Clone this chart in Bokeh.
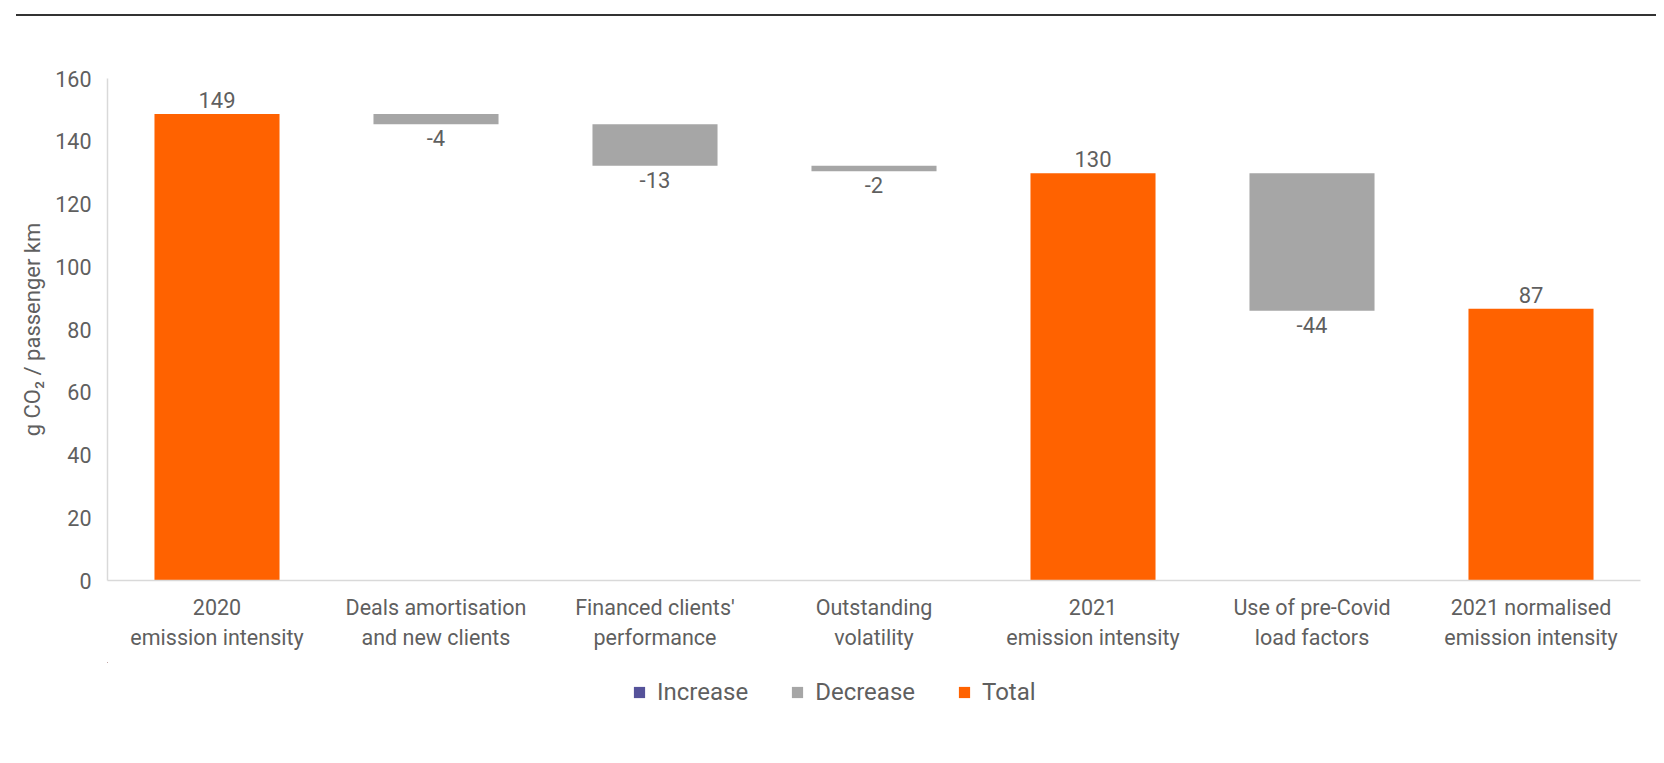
from bokeh.plotting import figure
from bokeh.models import (ColumnDataSource, Range1d, FixedTicker, Legend, LegendItem,
                          InlineStyleSheet)
from bokeh.layouts import column
from bokeh.core.properties import value
from bokeh.embed import file_html
from bokeh.resources import INLINE

# ---- data ----
categories = ["2020\nemission intensity", "Deals amortisation\nand new clients",
              "Financed clients'\nperformance", "Outstanding\nvolatility",
              "2021\nemission intensity", "Use of pre-Covid\nload factors",
              "2021 normalised\nemission intensity"]
kinds = ["Total", "Decrease", "Decrease", "Decrease", "Total", "Decrease", "Total"]
values = [148.7, -3.3, -13.2, -1.8, 129.8, -43.8, 86.6]
increase_values = [0, 0, 0, 0, 0, 0, 0]
value_labels = ["149", "-4", "-13", "-2", "130", "-44", "87"]
legend_names = ["Increase", "Decrease", "Total"]
colors = {"Increase": "#55529A", "Decrease": "#A6A6A6", "Total": "#FF6200"}

FONT = "Roboto"
TXT = "#5f5f5f"

xs, tops, bottoms, inc_tops, inc_bottoms = [], [], [], [], []
running = 0.0
for i, (k, v) in enumerate(zip(kinds, values)):
    xs.append(i + 0.5)
    if k == "Total":
        bottoms.append(0.0); tops.append(v); running = v
    else:
        tops.append(running); bottoms.append(running + v); running = running + v
    inc_bottoms.append(running); inc_tops.append(running + increase_values[i])

def src(kind):
    if kind == "Increase":
        return ColumnDataSource(dict(x=xs, top=inc_tops, bottom=inc_bottoms))
    idx = [i for i, k in enumerate(kinds) if k == kind]
    return ColumnDataSource(dict(x=[xs[i] for i in idx], top=[tops[i] for i in idx],
                                 bottom=[bottoms[i] for i in idx]))

sources = {n: src(n) for n in legend_names}

p = figure(width=1656, height=662, output_backend="svg", toolbar_location=None,
           x_range=Range1d(0, 7), y_range=Range1d(0, 160),
           min_border_left=107, min_border_right=16, min_border_top=78,
           min_border_bottom=82)
p.outline_line_color = None
p.grid.grid_line_color = None
p.stylesheets = [InlineStyleSheet(css=(
    ":host::before { content: ''; position: absolute; top: 14px; left: 16px; "
    "width: 1640px; height: 2px; background: #333333; z-index: 10; }"))]

for name in legend_names:
    p.vbar(x="x", top="top", bottom="bottom", width=0.571, source=sources[name],
           fill_color=colors[name], line_color=None)

# value labels
tot_idx = [i for i, k in enumerate(kinds) if k == "Total"]
dec_idx = [i for i, k in enumerate(kinds) if k != "Total"]
p.text(x=[xs[i] for i in tot_idx], y=[tops[i] for i in tot_idx],
       text=[value_labels[i] for i in tot_idx], text_align="center",
       text_baseline="bottom", y_offset=-6, text_font=value(FONT),
       text_font_size="22px", text_color=TXT)
p.text(x=[xs[i] for i in dec_idx], y=[bottoms[i] for i in dec_idx],
       text=[value_labels[i] for i in dec_idx], text_align="center",
       text_baseline="top", y_offset=6, text_font=value(FONT),
       text_font_size="22px", text_color=TXT)

# axes
p.xaxis.ticker = FixedTicker(ticks=xs)
p.xaxis.major_label_overrides = {x: c for x, c in zip(xs, categories)}
p.yaxis.ticker = FixedTicker(ticks=list(range(0, 161, 20)))
for ax in (p.xaxis, p.yaxis):
    ax.axis_line_color = "#d9d9d9"
    ax.axis_line_width = 1.5
    ax.major_tick_line_color = None
    ax.minor_tick_line_color = None
    ax.major_label_text_font = FONT
    ax.major_label_text_font_size = "21.5px"
    ax.major_label_text_color = TXT
p.xaxis.major_label_standoff = 8
p.yaxis.major_label_standoff = 10
p.yaxis.axis_label = "g CO\u2082 / passenger km"
p.yaxis.axis_label_text_font = FONT
p.yaxis.axis_label_text_font_size = "22px"
p.yaxis.axis_label_text_font_style = "normal"
p.yaxis.axis_label_text_color = TXT
p.yaxis.axis_label_standoff = 7

# legend strip (a small figure whose frame holds the legend)
lg = figure(width=1656, height=80, output_backend="svg", toolbar_location=None,
            x_range=Range1d(100, 107), y_range=Range1d(-20, -10),
            min_border_left=0, min_border_right=0, min_border_top=0,
            min_border_bottom=0)
lg.axis.visible = False
lg.grid.grid_line_color = None
lg.outline_line_color = None
lg_renderers = {n: lg.vbar(x="x", top="top", bottom="bottom", width=0.571,
                           source=sources[n], fill_color=colors[n], line_color=None)
                for n in legend_names}
legend = Legend(items=[LegendItem(label=n, renderers=[lg_renderers[n]]) for n in legend_names],
                orientation="horizontal", location=(525, 36),
                glyph_width=14, glyph_height=14, label_standoff=11, spacing=42,
                padding=0, margin=0, border_line_color=None,
                background_fill_alpha=0,
                label_text_font=FONT, label_text_font_size="24px",
                label_text_color=TXT, label_height=22)
lg.add_layout(legend, "center")

open("out.html", "w").write(file_html(column(p, lg, spacing=0), INLINE))
